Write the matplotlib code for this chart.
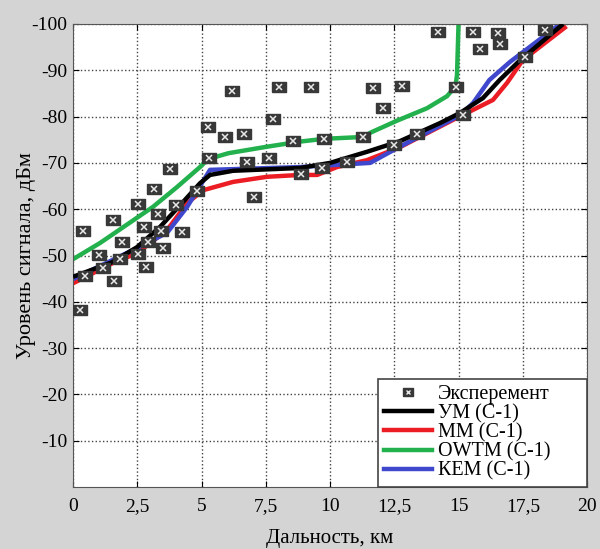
import numpy as np
import matplotlib
matplotlib.use("Agg")
import matplotlib.pyplot as plt
from matplotlib.lines import Line2D

plt.rcParams['font.family'] = ['Liberation Serif', 'DejaVu Serif']
plt.rcParams['axes.unicode_minus'] = False

# experiment points
exp_x = [0.27, 0.39, 0.47, 1.0, 1.17, 1.56, 1.6, 1.83, 1.9, 2.53, 2.53, 2.76, 2.84, 2.92,
         3.15, 3.3, 3.42, 3.5, 3.77, 4.0, 4.24, 4.82, 5.27, 5.29, 5.91, 6.19, 6.65, 6.77,
         7.04, 7.63, 7.78, 8.0, 8.56, 8.87, 9.26, 9.69, 9.75, 10.66, 11.28, 11.67, 12.06,
         12.49, 12.8, 13.39, 14.2, 14.9, 15.18, 15.56, 15.84, 16.54, 16.6, 17.6, 18.37]
exp_y = [-38.2, -55.3, -45.6, -50.1, -47.3, -57.7, -44.5, -49.2, -52.9, -61.1, -50.3, -56.2,
         -47.5, -52.9, -64.4, -58.9, -55.3, -51.6, -68.7, -60.9, -55.1, -64.0, -77.8, -71.1,
         -75.6, -85.5, -76.2, -70.2, -62.6, -71.1, -79.5, -86.4, -74.7, -67.6, -86.4, -68.8,
         -75.1, -70.2, -75.6, -86.2, -81.9, -73.9, -86.7, -76.2, -98.3, -86.4, -80.3, -98.3,
         -94.6, -98.1, -95.7, -92.9, -98.7]

um_x = [0, 1.5, 2.49, 3.39, 4.24, 4.94, 5.33, 6.23, 8.83, 10, 11.44, 12.72, 14.28, 15.06,
        15.95, 16.6, 17.4, 19.07]
um_y = [-45.4, -48.5, -51.8, -56.2, -61.3, -65.6, -67.4, -68.3, -68.9, -70, -72.4, -74.7,
        -78.6, -80.8, -84, -87.9, -92.2, -100]

mm_x = [0, 1.56, 2.49, 3.66, 4.44, 5.06, 6.23, 7.55, 8.83, 9.5, 10.27, 11.44, 12.72, 14.79,
        16.34, 16.89, 17.5, 19.2]
mm_y = [-44.0, -48.4, -50.5, -55.5, -61.3, -64.1, -65.9, -67.0, -67.4, -67.4, -69.1, -70.6,
        -73.4, -79.3, -83.6, -87.3, -92.2, -99.5]

owtm_x = [0, 1.05, 3.11, 4.05, 4.94, 5.25, 6.05, 7.55, 8.83, 9.77, 11.28, 11.6, 12.6, 13.77,
          14.55, 14.88, 14.94, 15.0]
owtm_y = [-49.2, -52.7, -60.5, -64.8, -69.1, -70.8, -72.1, -73.5, -74.6, -75.2, -75.6, -76.6,
          -79.1, -81.8, -84.4, -86.5, -89, -100]

kem_x = [0, 2.49, 3.66, 4.44, 5.33, 8.83, 10, 11.56, 12.65, 15.06, 15.56, 16.2, 17.0, 18.95]
kem_y = [-44.9, -51.6, -54.9, -60.5, -68.5, -69.1, -69.5, -70, -73.3, -80.3, -82.9, -87.9,
         -91.8, -100]

fig = plt.figure(figsize=(6, 5.49), dpi=100, facecolor='#d4d4d4')
ax = fig.add_axes([0.1217, 0.1129, 0.8567, 0.8434])

lw = 3.2
ax.plot(um_x, um_y, color='black', lw=lw, zorder=3, solid_capstyle='butt')
ax.plot(mm_x, mm_y, color='#ec1c24', lw=lw, zorder=2, solid_capstyle='butt')
ax.plot(owtm_x, owtm_y, color='#22b14c', lw=lw, zorder=2, solid_capstyle='butt')
ax.plot(kem_x, kem_y, color='#3f48cc', lw=lw, zorder=2, solid_capstyle='butt')

box = [(-1.3, -1), (1.3, -1), (1.3, 1), (-1.3, 1), (-1.3, -1)]
ax.plot(exp_x, exp_y, ls='none', marker=box, ms=9.5, color='#383838', mec='#383838', zorder=5)
ax.plot(exp_x, exp_y, ls='none', marker='x', ms=4.5, mew=1.1, color='#e8e8e8', zorder=6)

ax.set_xlim(0, 20)
ax.set_ylim(0, -100)
ax.set_xticks(np.arange(0, 20.1, 2.5))
ax.set_xticklabels(['0', '2,5', '5', '7,5', '10', '12,5', '15', '17,5', '20'])
ax.set_yticks(np.arange(-100, -9, 10))
ax.grid(True, ls=':', color='#444444', lw=1)
ax.tick_params(direction='in', top=True, right=True, labelsize=14, length=4)
ax.tick_params(axis='x', pad=8)
ax.tick_params(axis='y', pad=4)
for s in ax.spines.values():
    s.set_color('#555555')

ax.set_xlabel('Дальность, км', fontsize=15, labelpad=10)
ax.set_ylabel('Уровень сигнала, дБм', fontsize=16, labelpad=-3)

handles = [
    (Line2D([], [], ls='none', marker=box, ms=7, color='#383838'),
     Line2D([], [], ls='none', marker='x', ms=3.5, mew=1, color='#e8e8e8')),
    Line2D([], [], color='black', lw=lw),
    Line2D([], [], color='#ec1c24', lw=lw),
    Line2D([], [], color='#22b14c', lw=lw),
    Line2D([], [], color='#3f48cc', lw=lw),
]
labels = ['Эксперемент', 'УМ (С-1)', 'ММ (С-1)', 'OWTM (С-1)', 'КЕМ (С-1)']
leg = ax.legend(handles, labels, loc='lower left', bbox_to_anchor=(0.593, 0, 0.407, 0.2),
                mode='expand', borderaxespad=0, fontsize=14.5,
                fancybox=False, framealpha=1, edgecolor='#444444', labelspacing=0,
                handlelength=2.4, handletextpad=0.3, borderpad=0.3)
leg.get_frame().set_linewidth(1.2)
leg.set_zorder(10)

fig.savefig('out.png', dpi=100, facecolor=fig.get_facecolor())
